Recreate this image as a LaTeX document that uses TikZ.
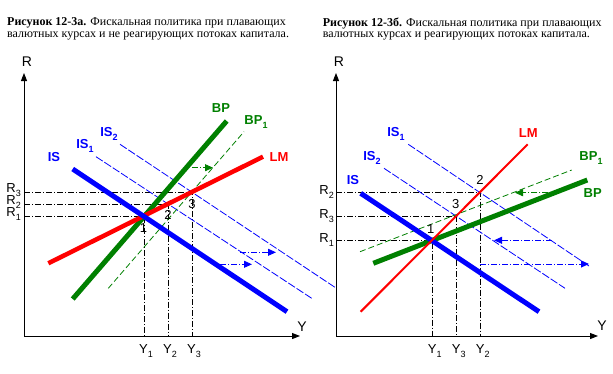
\documentclass[tikz,border=0pt]{standalone}
\usepackage{fontspec}
\setmainfont{Liberation Serif}
\setsansfont{Liberation Sans}
\usetikzlibrary{arrows.meta}
\definecolor{isblue}{RGB}{0,0,255}
\definecolor{lmred}{RGB}{255,0,0}
\definecolor{bpgreen}{RGB}{0,128,0}
\newcommand\sbx[1]{\raisebox{-4pt}{\fontsize{9}{9}\selectfont #1}}
\begin{document}
\begin{tikzpicture}[x=1pt,y=-1pt,
  axis/.style={line width=1pt,-{Triangle[length=8pt,width=6pt]}},
  guide/.style={line width=0.9pt,dash pattern=on 6pt off 2pt on 1pt off 2pt},
  thickblue/.style={line width=5pt,color=isblue},
  thinblue/.style={line width=0.8pt,color=isblue,dash pattern=on 8pt off 2pt},
  thickgreen/.style={line width=5pt,color=bpgreen},
  thingreen/.style={line width=0.8pt,color=bpgreen,dash pattern=on 6pt off 3pt},
  thickred/.style={line width=4.5pt,color=lmred},
  midred/.style={line width=2pt,color=lmred},
  shiftblue/.style={line width=0.9pt,color=isblue,dash pattern=on 6pt off 2pt on 1pt off 2pt,-{Triangle[length=8pt,width=7pt]}},
  shiftgreen/.style={line width=0.9pt,color=bpgreen,dash pattern=on 6pt off 2pt on 1pt off 2pt,-{Triangle[length=8pt,width=7pt]}},
  clab/.style={font=\sffamily\bfseries\fontsize{13}{13}\selectfont,inner sep=0pt},
  alab/.style={font=\sffamily\fontsize{14}{14}\selectfont,inner sep=0pt},
  tlab/.style={font=\sffamily\fontsize{13}{13}\selectfont,inner sep=0pt},
  plab/.style={font=\sffamily\fontsize{13}{13}\selectfont,inner sep=0pt},
  ttl/.style={font=\fontsize{12}{14}\selectfont,inner sep=0pt,anchor=west},
]
\useasboundingbox (0,0) rectangle (613,373);
\fill[white] (0,0) rectangle (613,373);

% ---------- titles ----------
\node[ttl] (t1a) at (7,23) {\textbf{Рисунок 12-3а.} Фискальная политика при плавающих};
\node[ttl] (t1b) at (7,36) {валютных курсах и не реагирующих потоках капитала.};
\node[ttl] (t2a) at (322.7,23) {\textbf{Рисунок 12-3б.} Фискальная политика при плавающих};
\node[ttl] (t2b) at (322.7,36) {валютных курсах и реагирующих потоках капитала.};

% ================= LEFT PANEL =================
\coordinate (LO) at (24,336);
\coordinate (LT) at (24,73);
\coordinate (LX) at (300,336);
\draw[axis] (LO) -- (LT);
\draw[axis] (LO) -- (LX);
\node[alab] (LRl) at (27,62) {R};
\node[alab] (LYl) at (302,327) {Y};

\coordinate (LP1) at (144,216);
\coordinate (LP2) at (168.3,204);
\coordinate (LP3) at (192.3,192.3);
\coordinate (LaR1) at (24,216);
\coordinate (LaR2) at (24,204);
\coordinate (LaR3) at (24,192.3);
\coordinate (LaY1) at (144,336);
\coordinate (LaY2) at (168.3,336);
\coordinate (LaY3) at (192.3,336);
\draw[guide] (LaR3) -- (LP3) -- (LaY3);
\draw[guide] (LaR2) -- (LP2) -- (LaY2);
\draw[guide] (LaR1) -- (LP1) -- (LaY1);

% IS curves
\coordinate (LIS0a) at (72.7,169);  \coordinate (LIS0b) at (287,311.7);
\coordinate (LIS1a) at (96,156.7);  \coordinate (LIS1b) at (312,298.5);
\coordinate (LIS2a) at (120,144.3); \coordinate (LIS2b) at (336,288);
\draw[thinblue] (LIS1a) -- (LIS1b);
\draw[thinblue] (LIS2a) -- (LIS2b);
% BP
\coordinate (LBPa) at (72.7,299);   \coordinate (LBPb) at (226.7,121);
\coordinate (LBP1a) at (108.3,288.3); \coordinate (LBP1b) at (244,131.7);
\draw[thingreen] (LBP1a) -- (LBP1b);
\draw[thickgreen] (LBPa) -- (LBPb);
% LM
\coordinate (LLMa) at (48.3,263.3); \coordinate (LLMb) at (263,156.7);
\draw[thickred] (LLMa) -- (LLMb);
\draw[thickblue] (LIS0a) -- (LIS0b);

% shift arrows
\coordinate (LsA1) at (220,264.3); \coordinate (LsA2) at (252,264.3);
\coordinate (LsB1) at (240,252.3); \coordinate (LsB2) at (276,252.3);
\coordinate (LsG1) at (192,167.7); \coordinate (LsG2) at (213,167.7);
\draw[shiftblue] (LsA1) -- (LsA2);
\draw[shiftblue] (LsB1) -- (LsB2);
\draw[shiftgreen] (LsG1) -- (LsG2);

% labels
\node[clab,text=isblue] (LISl) at (54,157) {IS};
\node[clab,text=isblue] (LIS1l) at (85,146) {IS\sbx{1}};
\node[clab,text=isblue] (LIS2l) at (109,134) {IS\sbx{2}};
\node[clab,text=bpgreen] (LBPl) at (221,108.3) {BP};
\node[clab,text=bpgreen] (LBP1l) at (256,122) {BP\sbx{1}};
\node[clab,text=lmred] (LLMl) at (279,156.7) {LM};

\node[tlab,anchor=east] (LR3l) at (21,190) {R\sbx{3}};
\node[tlab,anchor=east] (LR2l) at (21,202) {R\sbx{2}};
\node[tlab,anchor=east] (LR1l) at (21,214) {R\sbx{1}};
\node[tlab] (LY1l) at (146,351) {Y\sbx{1}};
\node[tlab] (LY2l) at (170,351) {Y\sbx{2}};
\node[tlab] (LY3l) at (194,351) {Y\sbx{3}};
\node[plab] (Ln1) at (143.5,228) {1};
\node[plab] (Ln2) at (168,215) {2};
\node[plab] (Ln3) at (192,204) {3};

% ================= RIGHT PANEL =================
\coordinate (RO) at (336,336);
\coordinate (RT) at (336,73);
\coordinate (RX) at (598,336);
\draw[axis] (RO) -- (RT);
\draw[axis] (RO) -- (RX);
\node[alab] (RRl) at (339,62) {R};
\node[alab] (RYl) at (602,326) {Y};

\coordinate (RP1) at (432.7,240.3);
\coordinate (RP3) at (456.7,216);
\coordinate (RP2) at (480.7,192.3);
\coordinate (RaR1) at (336,240.3);
\coordinate (RaR3) at (336,216);
\coordinate (RaR2) at (336,192.3);
\coordinate (RaY1) at (432.7,336);
\coordinate (RaY3) at (456.7,336);
\coordinate (RaY2) at (480.7,336);
\draw[guide] (RaR2) -- (RP2) -- (RaY2);
\draw[guide] (RaR3) -- (RP3) -- (RaY3);
\draw[guide] (RaR1) -- (RP1) -- (RaY1);

\coordinate (RIS0a) at (360.7,193.3); \coordinate (RIS0b) at (539,311.7);
\coordinate (RIS1a) at (408.3,144.3); \coordinate (RIS1b) at (589,266);
\coordinate (RIS2a) at (384,168.3);   \coordinate (RIS2b) at (565,288.3);
\draw[thinblue] (RIS1a) -- (RIS1b);
\draw[thinblue] (RIS2a) -- (RIS2b);
\coordinate (RBPa) at (373.3,263.3); \coordinate (RBPb) at (587.3,180);
\coordinate (RBP1a) at (360,251.7);  \coordinate (RBP1b) at (571.7,170);
\draw[thingreen] (RBP1a) -- (RBP1b);
\draw[thickgreen] (RBPa) -- (RBPb);
\draw[thickblue] (RIS0a) -- (RIS0b);
\coordinate (RLMa) at (360.7,311.7); \coordinate (RLMb) at (527.7,144.3);
\draw[midred] (RLMa) -- (RLMb);

\coordinate (RsA1) at (480,264); \coordinate (RsA2) at (589,264);
\coordinate (RsB1) at (552,240.3); \coordinate (RsB2) at (494,240.3);
\coordinate (RsG1) at (548.3,192.7); \coordinate (RsG2) at (515,192.7);
\draw[shiftblue] (RsA1) -- (RsA2);
\draw[shiftblue] (RsB1) -- (RsB2);
\draw[shiftgreen] (RsG1) -- (RsG2);

\node[clab,text=isblue] (RISl) at (353,180) {IS};
\node[clab,text=isblue] (RIS1l) at (396,134) {IS\sbx{1}};
\node[clab,text=isblue] (RIS2l) at (372,158) {IS\sbx{2}};
\node[clab,text=lmred] (RLMl) at (528.3,132.7) {LM};
\node[clab,text=bpgreen] (RBP1l) at (591,158) {BP\sbx{1}};
\node[clab,text=bpgreen] (RBPl) at (592.7,192.7) {BP};

\node[tlab,anchor=east] (RR2l) at (334,192) {R\sbx{2}};
\node[tlab,anchor=east] (RR3l) at (334,216) {R\sbx{3}};
\node[tlab,anchor=east] (RR1l) at (334,240) {R\sbx{1}};
\node[tlab] (RY1l) at (434.7,351) {Y\sbx{1}};
\node[tlab] (RY3l) at (458.7,351) {Y\sbx{3}};
\node[tlab] (RY2l) at (482.7,351) {Y\sbx{2}};
\node[plab] (Rn1) at (430.7,229.3) {1};
\node[plab] (Rn3) at (455.7,204.3) {3};
\node[plab] (Rn2) at (480,180) {2};
\end{tikzpicture}
\end{document}
